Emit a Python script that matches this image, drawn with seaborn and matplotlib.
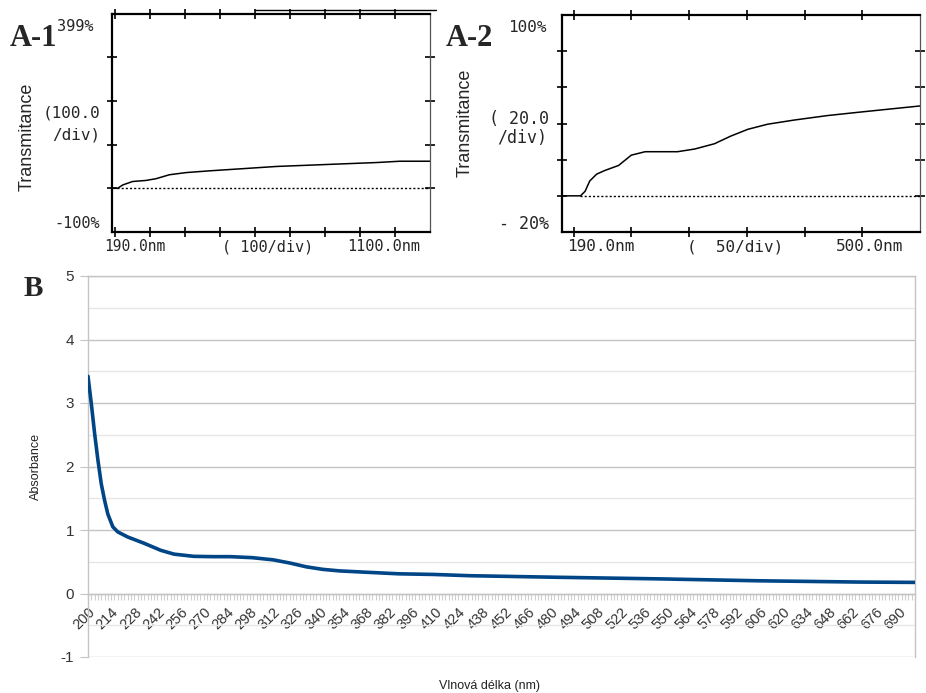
import matplotlib
matplotlib.use("Agg")
import matplotlib.pyplot as plt
import pandas as pd
import seaborn as sns
from matplotlib.lines import Line2D
from matplotlib.ticker import MultipleLocator

# ---- A-1: transmittance scan, 190-1100 nm (%)
a1_nm = [190, 206, 221, 249, 287, 316, 354, 402, 469, 565, 660, 756, 851, 947, 1014, 1100]
a1_t = [0, 0, 7.8, 15.6, 18, 22, 31, 36, 40, 45, 50, 53, 56, 59, 62, 62]

# ---- A-2: transmittance scan, 190-500 nm (%)
a2_nm = [190, 206, 210, 214, 220, 227, 239, 250, 262, 290, 305, 322, 336, 351, 368, 391,
         420, 448, 477, 500]
a2_t = [0, 0, 2.5, 8.2, 12, 14, 16.8, 22.5, 24.4, 24.4, 25.9, 28.8, 33, 36.8, 39.6, 41.9,
        44.4, 46.3, 48.2, 49.7]

# ---- B: absorbance spectrum, 200-700 nm
b_nm = [200, 202, 204, 206, 208, 210, 212, 215, 218, 224, 234, 244, 252, 264, 276, 286,
        299, 312, 322, 332, 342, 352, 368, 388, 409, 431, 485, 546, 606, 667, 700]
b_abs = [3.42, 2.99, 2.52, 2.10, 1.73, 1.47, 1.25, 1.05, 0.97, 0.89, 0.79, 0.68, 0.62,
         0.585, 0.58, 0.58, 0.565, 0.53, 0.48, 0.42, 0.38, 0.356, 0.335, 0.31, 0.30, 0.28,
         0.255, 0.23, 0.20, 0.18, 0.175]
b_xticks = list(range(200, 701, 14))
b_xlabels = [str(v) for v in b_xticks]
b_yticks = [-1, 0, 1, 2, 3, 4, 5]

sns.set_style("white")
plt.rcParams["font.family"] = ["DejaVu Sans"]

W, H = 926, 693
fig = plt.figure(figsize=(W / 100, H / 100), dpi=100)
fig.patch.set_facecolor("white")


def box(left, top, right, bottom):
    return [left / W, 1 - bottom / H, (right - left) / W, (bottom - top) / H]


def ptext(x, y, s, **kw):
    fig.text(x / W, 1 - y / H, s, **kw)


MONO = "DejaVu Sans Mono"
SERIF = "Liberation Serif"
SANS = "Liberation Sans"


def scan_axes(ax, xlim, ylim, xticks, yticks):
    ax.set_xlim(*xlim)
    ax.set_ylim(*ylim)
    ax.set_xticks(xticks)
    ax.set_yticks(yticks)
    ax.set_xticklabels([])
    ax.set_yticklabels([])
    ax.tick_params(direction="inout", length=7, width=1.2, color="black",
                   top=True, right=True, bottom=True, left=True)
    for side in ["left", "bottom", "top"]:
        ax.spines[side].set_color("black")
        ax.spines[side].set_linewidth(1.6)
    ax.spines["right"].set_color("#555555")
    ax.spines["right"].set_linewidth(0.9)
    ax.set_xlabel("")
    ax.set_ylabel("")
    ax.grid(False)


# ---------------- A-1
ax1 = fig.add_axes(box(112, 14, 430, 232))
df1 = pd.DataFrame({"nm": a1_nm, "T": a1_t})
sns.lineplot(data=df1, x="nm", y="T", ax=ax1, color="black", linewidth=1.1)
ax1.axhline(0, xmin=0.015, color="black", linewidth=1.0, linestyle=(0, (1.5, 1.5)))
scan_axes(ax1, (190, 1100), (-100, 399), list(range(200, 1001, 100)), [0, 100, 200, 300])
ax1.add_line(Line2D([0.45, 1.02], [1.018, 1.018], transform=ax1.transAxes,
                    color="black", linewidth=1.0, clip_on=False))

ptext(10, 46, "A-1", family=SERIF, weight="bold", fontsize=22, va="baseline")
ptext(57, 31, "399%", family=MONO, fontsize=11, va="baseline")
ptext(27, 137, "Transmitance", family=SANS, fontsize=13, rotation=90,
      ha="center", va="center")
ptext(100, 118, "(100.0", family=MONO, fontsize=11.5, ha="right", va="baseline")
ptext(100, 139, "/div)", family=MONO, fontsize=11.5, ha="right", va="baseline")
ptext(100, 228, "-100%", family=MONO, fontsize=11, ha="right", va="baseline")
ptext(104, 251, "190.0nm", family=MONO, fontsize=10.5, va="baseline")
ptext(222, 251, "( 100/div)", family=MONO, fontsize=11, va="baseline")
ptext(347, 251, "1100.0nm", family=MONO, fontsize=11, va="baseline")

# ---------------- A-2
ax2 = fig.add_axes(box(562, 15, 920, 232))
df2 = pd.DataFrame({"nm": a2_nm, "T": a2_t})
sns.lineplot(data=df2, x="nm", y="T", ax=ax2, color="black", linewidth=1.1)
ax2.axhline(0, xmin=0.05, color="black", linewidth=1.0, linestyle=(0, (1.5, 1.5)))
scan_axes(ax2, (190, 500), (-20, 100), list(range(200, 451, 50)), [0, 20, 40, 60, 80])

ptext(446, 46, "A-2", family=SERIF, weight="bold", fontsize=22, va="baseline")
ptext(547, 32, "100%", family=MONO, fontsize=11.5, ha="right", va="baseline")
ptext(465, 123, "Transmitance", family=SANS, fontsize=13, rotation=90,
      ha="center", va="center")
ptext(549, 124, "( 20.0", family=MONO, fontsize=12, ha="right", va="baseline")
ptext(547, 143, "/div)", family=MONO, fontsize=12, ha="right", va="baseline")
ptext(549, 229, "- 20%", family=MONO, fontsize=12, ha="right", va="baseline")
ptext(567, 251, "190.0nm", family=MONO, fontsize=11.5, va="baseline")
ptext(687, 251, "(  50/div)", family=MONO, fontsize=11.5, va="baseline")
ptext(836, 251, "500.0nm", family=MONO, fontsize=11.5, va="baseline")

# ---------------- B
axb = fig.add_axes(box(88, 276, 915, 657))
dfb = pd.DataFrame({"nm": b_nm, "A": b_abs})
sns.lineplot(data=dfb, x="nm", y="A", ax=axb, color="#004586", linewidth=2.6,
             solid_capstyle="round", solid_joinstyle="round", zorder=5)
# x axis runs along A = 0 (set before tick labels: moving a spine resets ticks)
axb.spines["bottom"].set_position(("data", 0))
axb.set_xlim(200, 700)
axb.set_ylim(-1, 5)
axb.yaxis.set_minor_locator(MultipleLocator(0.5))
axb.xaxis.set_minor_locator(MultipleLocator(2))
axb.grid(True, which="major", axis="y", color="#c4c4c4", linewidth=1.0)
axb.grid(True, which="minor", axis="y", color="#e6e6e6", linewidth=1.0)
axb.set_axisbelow(True)
axb.set_yticks(b_yticks)
axb.set_yticklabels([str(v) for v in b_yticks], family=SANS, fontsize=11, color="#333333")
axb.set_xticks(b_xticks)
axb.set_xticklabels(b_xlabels, family=SANS, fontsize=10.5, color="#333333",
                    rotation=45, ha="right", va="top", rotation_mode="anchor")
for side in ["left", "right", "top", "bottom"]:
    axb.spines[side].set_color("#c4c4c4")
    axb.spines[side].set_linewidth(1.0)
axb.tick_params(axis="y", which="major", left=True, length=6, color="#c4c4c4",
                direction="out", pad=4)
axb.tick_params(axis="y", which="minor", left=False)
axb.tick_params(axis="x", which="both", bottom=True, direction="out", length=4,
                color="#cfcfcf", width=0.8, pad=4)
axb.set_xlabel("")
axb.set_ylabel("")

ptext(24, 296, "B", family=SERIF, weight="bold", fontsize=21, va="baseline")
ptext(36, 466, "Absorbance", family=SANS, fontsize=9, rotation=90,
      ha="center", va="center", color="#222222")
ptext(489, 686, "Vlnová délka (nm)", family=SANS, fontsize=9, ha="center",
      va="center", color="#222222")

fig.savefig("out.png", dpi=100, facecolor="white")
